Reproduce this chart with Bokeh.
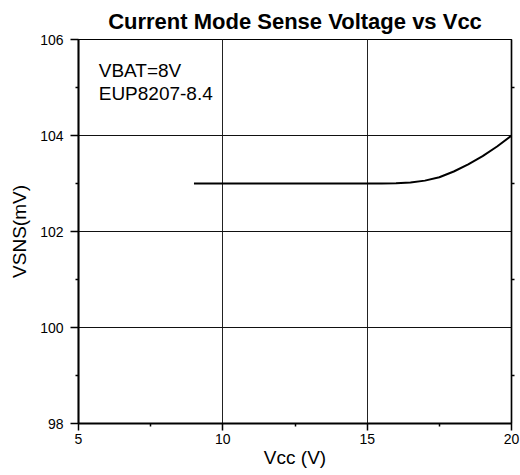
from bokeh.plotting import figure
from bokeh.models import Range1d, LinearAxis, FixedTicker, Label
from bokeh.embed import file_html
from bokeh.resources import INLINE

# Data
vcc = [9, 10, 11, 12, 13, 14, 15, 15.5, 16, 16.5, 17, 17.5, 18, 18.5, 19, 19.5, 20]
vsns = [103.0, 103.0, 103.0, 103.0, 103.0, 103.0, 103.0, 103.0, 103.005, 103.02,
        103.06, 103.13, 103.25, 103.4, 103.57, 103.77, 104.0]
x_ticks = [5, 10, 15, 20]
x_minor = [7.5, 12.5, 17.5]
y_ticks = [98, 100, 102, 104, 106]
y_minor = [99, 101, 103, 105]
annot = ["VBAT=8V", "EUP8207-8.4"]
title_text = "Current Mode Sense Voltage vs Vcc"
x_label = "Vcc (V)"
y_label = "VSNS(mV)"

FONT = "Liberation Sans"

p = figure(output_backend="svg", toolbar_location=None,
           x_range=Range1d(5, 20), y_range=Range1d(98, 106),
           frame_width=433, frame_height=384,
           min_border_left=78, min_border_right=9, min_border_top=39, min_border_bottom=52,
           title=title_text)

p.title.text_font = FONT
p.title.text_font_size = "22px"
p.title.text_font_style = "bold"
p.title.text_color = "black"
p.title.align = "center"
p.title.standoff = 12

p.outline_line_color = "black"
p.outline_line_width = 1.2
p.background_fill_color = "white"

for ax, ticks, minor in ((p.xaxis[0], x_ticks, x_minor), (p.yaxis[0], y_ticks, y_minor)):
    ax.ticker = FixedTicker(ticks=ticks, minor_ticks=minor)
    ax.axis_line_color = "black"
    ax.axis_line_width = 2
    ax.major_tick_line_color = "black"
    ax.major_tick_line_width = 1.5
    ax.major_tick_out = 8
    ax.major_tick_in = 0
    ax.minor_tick_line_color = "black"
    ax.minor_tick_line_width = 1.5
    ax.minor_tick_out = 3
    ax.minor_tick_in = 0
    ax.major_label_text_font = FONT
    ax.major_label_text_font_size = "14px"
    ax.major_label_text_color = "black"
    ax.axis_label_text_font = FONT
    ax.axis_label_text_font_size = "19px"
    ax.axis_label_text_font_style = "normal"
    ax.axis_label_text_color = "black"

p.xaxis[0].axis_label = x_label
p.xaxis[0].major_tick_out = 7
p.xaxis[0].major_label_standoff = 3
p.xaxis[0].axis_label_standoff = 0
p.yaxis[0].axis_label = y_label
p.yaxis[0].major_label_standoff = 7
p.yaxis[0].axis_label_standoff = 7

right = LinearAxis(ticker=FixedTicker(ticks=[], minor_ticks=y_minor),
                   major_tick_out=0, major_tick_in=0,
                   minor_tick_out=3, minor_tick_in=0, minor_tick_line_width=1.5,
                   minor_tick_line_color="black",
                   axis_line_color="black", axis_line_width=1.5)
p.add_layout(right, "right")

p.xgrid.ticker = FixedTicker(ticks=x_ticks)
p.ygrid.ticker = FixedTicker(ticks=y_ticks)
p.xgrid.grid_line_color = "#222222"
p.ygrid.grid_line_color = "#111111"
p.xgrid.grid_line_width = 1
p.ygrid.grid_line_width = 1.2

p.line(vcc, vsns, line_color="black", line_width=2)

for i, t in enumerate(annot):
    p.add_layout(Label(x=5.7, y=106, y_offset=-31 - 23 * i, text=t,
                       text_font=FONT, text_font_size="19px", text_color="black",
                       text_baseline="alphabetic"))

open("out.html", "w").write(file_html(p, INLINE))
